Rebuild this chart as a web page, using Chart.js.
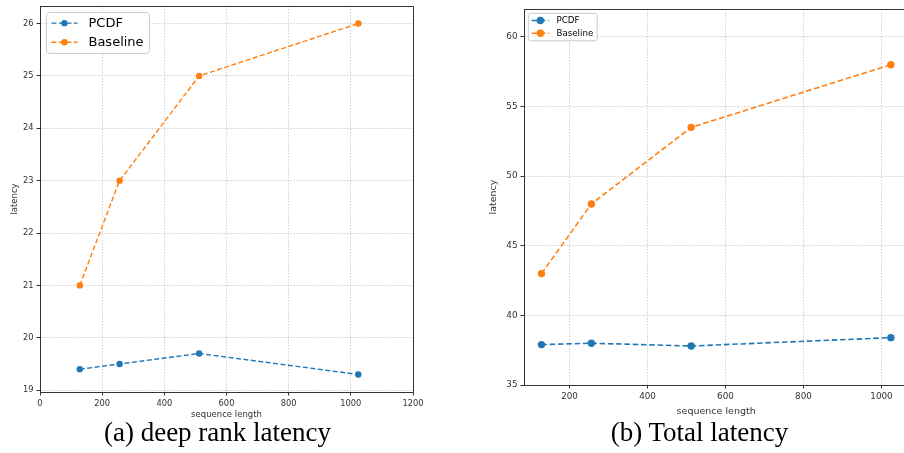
<!DOCTYPE html>
<html>
<head>
<meta charset="utf-8">
<script src="https://cdn.jsdelivr.net/npm/chart.js@4.4.0/dist/chart.umd.min.js"></script>
<style>
  html, body { margin: 0; padding: 0; background: #fff; }
  body { width: 904px; height: 453px; overflow: hidden; position: relative; }
  canvas { position: absolute; top: 0; }
  #chart-a { left: 0; }
  #chart-b { left: 480px; }
  .caption { position: absolute; top: 419px; font-family: "Liberation Serif", serif; font-size: 27px; line-height: 27px; text-align: center; color: #000; white-space: nowrap; }
</style>
</head>
<body>
<canvas id="chart-a" width="424" height="420"></canvas>
<canvas id="chart-b" width="432" height="417"></canvas>
<div class="caption" style="left:0;width:435px">(a) deep rank latency</div>
<div class="caption" style="left:515px;width:369px">(b) Total latency</div>
<script>
// values
const seqLen = [128, 256, 512, 1024];
const deepPcdf = [19.4, 19.5, 19.7, 19.3];
const deepBaseline = [21, 23, 25, 26];
const totalPcdf = [37.9, 38.0, 37.8, 38.4];
const totalBaseline = [43, 48, 53.5, 58];
const xTicksA = [0, 200, 400, 600, 800, 1000, 1200];
const yTicksA = [19, 20, 21, 22, 23, 24, 25, 26];
const xTicksB = [200, 400, 600, 800, 1000];
const yTicksB = [35, 40, 45, 50, 55, 60];

const BLUE = '#1f77b4';
const ORANGE = '#ff7f0e';

Chart.defaults.font.family = '"DejaVu Sans", sans-serif';

// same pixel snapping Chart.js uses for its own axis borders
const snap = p => Math.round(p - 0.5) + 0.5;

// matplotlib-ish frame (all four spines) and boxed legend inside the axes
const mplFrame = {
  id: 'mplFrame',
  afterDraw(chart, args, opts) {
    const { ctx, chartArea: a } = chart;
    ctx.save();
    ctx.strokeStyle = '#333';
    ctx.lineWidth = 1;
    ctx.beginPath();
    ctx.moveTo(snap(a.left), snap(a.top));
    ctx.lineTo(snap(a.right), snap(a.top));
    ctx.lineTo(snap(a.right), snap(a.bottom));
    ctx.stroke();

    const fs = opts.fontSize;
    ctx.font = `${fs}px "DejaVu Sans"`;
    const sets = chart.data.datasets;
    const textW = Math.max(...sets.map(d => ctx.measureText(d.label).width));
    const bx = a.left + 0.5 * fs, by = a.top + 0.5 * fs;
    const hx = bx + 0.38 * fs, tx = hx + 2 * fs + 0.85 * fs;
    const bw = tx - bx + textW + 0.45 * fs, bh = 3.15 * fs;
    ctx.fillStyle = 'rgba(255,255,255,0.8)';
    ctx.strokeStyle = '#cccccc';
    ctx.beginPath();
    ctx.roundRect(bx, by, bw, bh, 0.25 * fs);
    ctx.fill();
    ctx.stroke();
    sets.forEach((d, i) => {
      const cy = by + 0.82 * fs + i * 1.47 * fs;
      ctx.strokeStyle = d.borderColor;
      ctx.lineWidth = d.borderWidth;
      ctx.setLineDash(d.borderDash);
      ctx.beginPath();
      ctx.moveTo(hx, cy);
      ctx.lineTo(hx + 2 * fs, cy);
      ctx.stroke();
      ctx.setLineDash([]);
      ctx.fillStyle = d.pointBackgroundColor;
      ctx.beginPath();
      ctx.arc(hx + fs, cy, d.pointRadius, 0, 2 * Math.PI);
      ctx.fill();
      ctx.fillStyle = '#000';
      ctx.textBaseline = 'middle';
      ctx.fillText(d.label, tx, cy);
    });
    ctx.restore();
  }
};

function makeChart(id, cfg) {
  const ds = (label, ys, color) => ({
    label,
    data: seqLen.map((x, i) => ({ x, y: ys[i] })),
    borderColor: color,
    backgroundColor: color,
    pointBackgroundColor: color,
    borderWidth: cfg.lineWidth,
    borderDash: cfg.dash,
    pointRadius: cfg.pointRadius,
    pointHoverRadius: cfg.pointRadius,
    pointBorderWidth: 0,
    tension: 0,
    fill: false
  });

  const gridOpts = { color: 'rgba(170,170,170,0.7)', lineWidth: 0.8, tickColor: '#333', tickLength: 3.5, tickWidth: 1 };
  const borderOpts = { color: '#333', width: 1, dash: [1.5, 1.5] };
  const tickFont = { size: cfg.tickSize };
  const titleFont = { size: cfg.titleSize };

  return new Chart(document.getElementById(id), {
    type: 'line',
    data: {
      datasets: [ds('PCDF', cfg.pcdf, BLUE), ds('Baseline', cfg.baseline, ORANGE)]
    },
    options: {
      responsive: false,
      animation: false,
      events: [],
      layout: { padding: { top: cfg.padTop, right: cfg.padRight, left: 0, bottom: 0 } },
      scales: {
        x: {
          type: 'linear',
          min: cfg.xMin,
          max: cfg.xMax,
          afterBuildTicks: s => { s.ticks = cfg.xTicks.map(v => ({ value: v })); },
          afterFit: s => { s.height = cfg.xAxisH; s.paddingLeft = 0; s.paddingRight = 0; },
          grid: gridOpts,
          border: borderOpts,
          ticks: { color: '#333', font: tickFont, padding: 3, maxRotation: 0, autoSkip: false, callback: v => String(v) },
          title: { display: true, text: 'sequence length', color: '#333', font: titleFont, padding: { top: 0, bottom: 0 } }
        },
        y: {
          type: 'linear',
          min: cfg.yMin,
          max: cfg.yMax,
          afterBuildTicks: s => { s.ticks = cfg.yTicks.map(v => ({ value: v })); },
          afterFit: s => { s.width = cfg.yAxisW; s.paddingTop = 0; s.paddingBottom = 0; },
          grid: gridOpts,
          border: borderOpts,
          ticks: { color: '#333', font: tickFont, padding: 3, autoSkip: false, callback: v => String(v) },
          title: { display: true, text: 'latency', color: '#333', font: titleFont, padding: { top: cfg.yTitlePad, bottom: 0 } }
        }
      },
      plugins: {
        legend: { display: false },
        tooltip: { enabled: false },
        mplFrame: { fontSize: cfg.legendSize }
      }
    },
    plugins: [mplFrame]
  });
}

// (a) deep rank latency
makeChart('chart-a', {
  pcdf: deepPcdf, baseline: deepBaseline,
  xMin: 0, xMax: 1200, yMin: 18.965, yMax: 26.335,
  xTicks: xTicksA, yTicks: yTicksA,
  padTop: 6, padRight: 11, xAxisH: 28, yAxisW: 40, yTitlePad: 9.9,
  tickSize: 8.3, titleSize: 8.5, legendSize: 13,
  lineWidth: 1.4, dash: [5, 2.5], pointRadius: 3.2
});

// (b) Total latency
makeChart('chart-b', {
  pcdf: totalPcdf, baseline: totalBaseline,
  xMin: 83.2, xMax: 1068.8, yMin: 35, yMax: 62,
  xTicks: xTicksB, yTicks: yTicksB,
  padTop: 9, padRight: 0, xAxisH: 32, yAxisW: 44, yTitlePad: 8.3,
  tickSize: 8.8, titleSize: 9.5, legendSize: 8.7,
  lineWidth: 1.6, dash: [5.5, 2.8], pointRadius: 3.7
});
</script>
</body>
</html>
